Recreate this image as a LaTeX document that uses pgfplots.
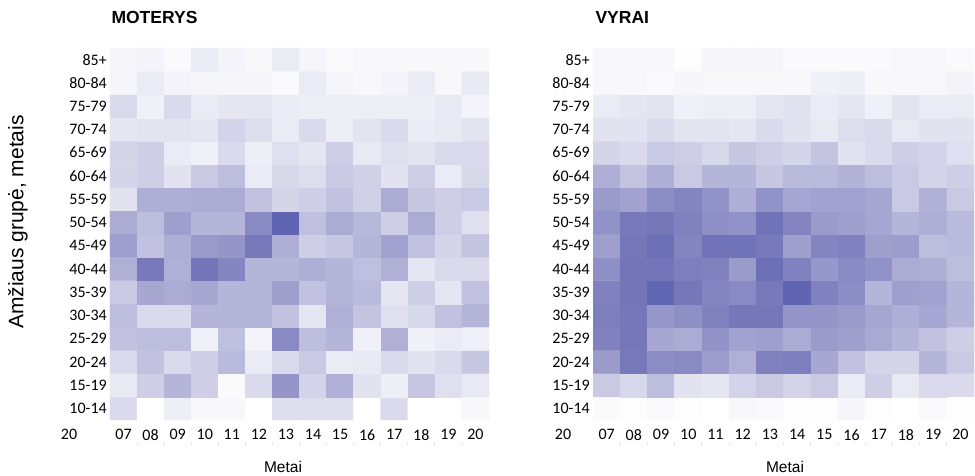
\documentclass[border=0pt]{standalone}
\usepackage{fontspec}
\setmainfont{Liberation Sans}
\newfontfamily\carlito{Carlito}
\usepackage{pgfplots}
\pgfplotsset{compat=1.18}
\pgfplotsset{
  heat/.style={
    scale only axis, anchor=south west,
    height=372pt,
    xmin=6.5, xmax=20.5, ymin=0.5, ymax=16.5,
    axis line style={draw=none}, major tick length=0pt, tick style={draw=none},
    xtick={7,...,20},
    xticklabels={07,08,09,10,11,12,13,14,15,16,17,18,19,20},
    ytick={1,...,16},
    yticklabels={10-14,15-19,20-24,25-29,30-34,35-39,40-44,45-49,50-54,55-59,60-64,65-69,70-74,75-79,80-84,85+},
    xticklabel style={font=\carlito\fontsize{16}{16}\selectfont, inner sep=0pt, anchor=north, yshift=-9pt},
    yticklabel style={font=\carlito\fontsize{16}{16}\selectfont, inner sep=0pt, anchor=east, xshift=-3pt},
    extra x ticks={7.5,8.5,9.5,10.5,11.5,12.5,13.5,14.5,15.5,16.5,17.5,18.5,19.5},
    extra x tick labels={},
    extra x tick style={major tick length=1.2pt, tick align=outside, tick pos=lower,
      tick style={draw=black!25, line width=0.8pt, yshift=-23pt}},
    colormap={purp}{rgb255(0cm)=(255,255,255); rgb255(3.3cm)=(174,174,214); rgb255(6.5cm)=(120,121,186); rgb255(9cm)=(95,101,178); rgb255(10cm)=(86,92,172)},
    point meta min=0, point meta max=1,
  }
}
\begin{document}
\begin{tikzpicture}
\path[use as bounding box] (0,0) rectangle (975pt,475pt);
% MOTERYS
\begin{axis}[heat, at={(110pt,55pt)}, width=379pt]
\addplot[matrix plot*, mesh/cols=14, point meta=explicit] coordinates {
(7,1)[0.15] (8,1)[0] (9,1)[0.07] (10,1)[0.03] (11,1)[0.03] (12,1)[0] (13,1)[0.14] (14,1)[0.14] (15,1)[0.14] (16,1)[0] (17,1)[0.15] (18,1)[0] (19,1)[0] (20,1)[0.03]
(7,2)[0.09] (8,2)[0.2] (9,2)[0.3] (10,2)[0.2] (11,2)[0.02] (12,2)[0.15] (13,2)[0.48] (14,2)[0.18] (15,2)[0.32] (16,2)[0.12] (17,2)[0.07] (18,2)[0.23] (19,2)[0.13] (20,2)[0.09]
(7,3)[0.15] (8,3)[0.25] (9,3)[0.15] (10,3)[0.2] (11,3)[0.28] (12,3)[0.08] (13,3)[0.15] (14,3)[0.22] (15,3)[0.08] (16,3)[0.09] (17,3)[0.15] (18,3)[0.12] (19,3)[0.15] (20,3)[0.23]
(7,4)[0.25] (8,4)[0.27] (9,4)[0.27] (10,4)[0.06] (11,4)[0.26] (12,4)[0.05] (13,4)[0.55] (14,4)[0.27] (15,4)[0.3] (16,4)[0.06] (17,4)[0.32] (18,4)[0.06] (19,4)[0.08] (20,4)[0.06]
(7,5)[0.27] (8,5)[0.15] (9,5)[0.15] (10,5)[0.3] (11,5)[0.3] (12,5)[0.3] (13,5)[0.25] (14,5)[0.1] (15,5)[0.32] (16,5)[0.24] (17,5)[0.13] (18,5)[0.16] (19,5)[0.25] (20,5)[0.3]
(7,6)[0.22] (8,6)[0.37] (9,6)[0.35] (10,6)[0.37] (11,6)[0.3] (12,6)[0.3] (13,6)[0.42] (14,6)[0.25] (15,6)[0.3] (16,6)[0.28] (17,6)[0.1] (18,6)[0.2] (19,6)[0.1] (20,6)[0.25]
(7,7)[0.32] (8,7)[0.65] (9,7)[0.32] (10,7)[0.7] (11,7)[0.57] (12,7)[0.3] (13,7)[0.3] (14,7)[0.33] (15,7)[0.3] (16,7)[0.26] (17,7)[0.32] (18,7)[0.1] (19,7)[0.15] (20,7)[0.15]
(7,8)[0.42] (8,8)[0.25] (9,8)[0.33] (10,8)[0.45] (11,8)[0.48] (12,8)[0.65] (13,8)[0.33] (14,8)[0.2] (15,8)[0.23] (16,8)[0.3] (17,8)[0.4] (18,8)[0.25] (19,8)[0.17] (20,8)[0.24]
(7,9)[0.35] (8,9)[0.27] (9,9)[0.42] (10,9)[0.3] (11,9)[0.3] (12,9)[0.55] (13,9)[0.9] (14,9)[0.26] (15,9)[0.35] (16,9)[0.29] (17,9)[0.2] (18,9)[0.35] (19,9)[0.2] (20,9)[0.13]
(7,10)[0.12] (8,10)[0.33] (9,10)[0.33] (10,10)[0.35] (11,10)[0.35] (12,10)[0.25] (13,10)[0.17] (14,10)[0.2] (15,10)[0.25] (16,10)[0.19] (17,10)[0.35] (18,10)[0.23] (19,10)[0.2] (20,10)[0.22]
(7,11)[0.17] (8,11)[0.2] (9,11)[0.12] (10,11)[0.22] (11,11)[0.27] (12,11)[0.08] (13,11)[0.16] (14,11)[0.14] (15,11)[0.22] (16,11)[0.19] (17,11)[0.12] (18,11)[0.2] (19,11)[0.08] (20,11)[0.16]
(7,12)[0.17] (8,12)[0.2] (9,12)[0.08] (10,12)[0.06] (11,12)[0.15] (12,12)[0.07] (13,12)[0.13] (14,12)[0.1] (15,12)[0.2] (16,12)[0.09] (17,12)[0.13] (18,12)[0.11] (19,12)[0.15] (20,12)[0.15]
(7,13)[0.1] (8,13)[0.11] (9,13)[0.11] (10,13)[0.1] (11,13)[0.18] (12,13)[0.14] (13,13)[0.08] (14,13)[0.15] (15,13)[0.07] (16,13)[0.11] (17,13)[0.15] (18,13)[0.08] (19,13)[0.09] (20,13)[0.11]
(7,14)[0.15] (8,14)[0.06] (9,14)[0.15] (10,14)[0.08] (11,14)[0.1] (12,14)[0.1] (13,14)[0.08] (14,14)[0.07] (15,14)[0.07] (16,14)[0.07] (17,14)[0.07] (18,14)[0.07] (19,14)[0.09] (20,14)[0.05]
(7,15)[0.04] (8,15)[0.08] (9,15)[0.05] (10,15)[0.04] (11,15)[0.04] (12,15)[0.04] (13,15)[0.02] (14,15)[0.08] (15,15)[0.04] (16,15)[0.03] (17,15)[0.05] (18,15)[0.08] (19,15)[0.03] (20,15)[0.09]
(7,16)[0.04] (8,16)[0.05] (9,16)[0.02] (10,16)[0.08] (11,16)[0.05] (12,16)[0.03] (13,16)[0.08] (14,16)[0.04] (15,16)[0.02] (16,16)[0.03] (17,16)[0.03] (18,16)[0.03] (19,16)[0.03] (20,16)[0.03]
};
\end{axis}
% VYRAI
\begin{axis}[heat, at={(593pt,55pt)}, width=381pt]
\addplot[matrix plot*, mesh/cols=14, point meta=explicit] coordinates {
(7,1)[0.02] (8,1)[0.01] (9,1)[0.02] (10,1)[0.01] (11,1)[0] (12,1)[0.03] (13,1)[0.02] (14,1)[0.01] (15,1)[0.01] (16,1)[0.04] (17,1)[0.01] (18,1)[0] (19,1)[0.02] (20,1)[0.01]
(7,2)[0.22] (8,2)[0.16] (9,2)[0.27] (10,2)[0.12] (11,2)[0.1] (12,2)[0.18] (13,2)[0.22] (14,2)[0.18] (15,2)[0.22] (16,2)[0.08] (17,2)[0.2] (18,2)[0.09] (19,2)[0.15] (20,2)[0.15]
(7,3)[0.45] (8,3)[0.65] (9,3)[0.53] (10,3)[0.55] (11,3)[0.43] (12,3)[0.32] (13,3)[0.6] (14,3)[0.62] (15,3)[0.37] (16,3)[0.25] (17,3)[0.17] (18,3)[0.17] (19,3)[0.3] (20,3)[0.22]
(7,4)[0.6] (8,4)[0.67] (9,4)[0.37] (10,4)[0.35] (11,4)[0.5] (12,4)[0.4] (13,4)[0.42] (14,4)[0.35] (15,4)[0.45] (16,4)[0.42] (17,4)[0.36] (18,4)[0.3] (19,4)[0.25] (20,4)[0.2]
(7,5)[0.62] (8,5)[0.67] (9,5)[0.47] (10,5)[0.52] (11,5)[0.6] (12,5)[0.68] (13,5)[0.68] (14,5)[0.48] (15,5)[0.48] (16,5)[0.45] (17,5)[0.38] (18,5)[0.33] (19,5)[0.38] (20,5)[0.3]
(7,6)[0.6] (8,6)[0.7] (9,6)[0.88] (10,6)[0.68] (11,6)[0.58] (12,6)[0.55] (13,6)[0.65] (14,6)[0.9] (15,6)[0.6] (16,6)[0.53] (17,6)[0.3] (18,6)[0.42] (19,6)[0.4] (20,6)[0.3]
(7,7)[0.52] (8,7)[0.7] (9,7)[0.7] (10,7)[0.62] (11,7)[0.6] (12,7)[0.45] (13,7)[0.78] (14,7)[0.6] (15,7)[0.47] (16,7)[0.55] (17,7)[0.5] (18,7)[0.35] (19,7)[0.33] (20,7)[0.27]
(7,8)[0.42] (8,8)[0.68] (9,8)[0.78] (10,8)[0.58] (11,8)[0.72] (12,8)[0.72] (13,8)[0.65] (14,8)[0.42] (15,8)[0.58] (16,8)[0.6] (17,8)[0.42] (18,8)[0.43] (19,8)[0.27] (20,8)[0.28]
(7,9)[0.5] (8,9)[0.65] (9,9)[0.67] (10,9)[0.6] (11,9)[0.52] (12,9)[0.5] (13,9)[0.72] (14,9)[0.58] (15,9)[0.45] (16,9)[0.42] (17,9)[0.38] (18,9)[0.3] (19,9)[0.33] (20,9)[0.28]
(7,10)[0.45] (8,10)[0.4] (9,10)[0.53] (10,10)[0.58] (11,10)[0.5] (12,10)[0.33] (13,10)[0.5] (14,10)[0.38] (15,10)[0.4] (16,10)[0.4] (17,10)[0.37] (18,10)[0.22] (19,10)[0.32] (20,10)[0.22]
(7,11)[0.33] (8,11)[0.24] (9,11)[0.33] (10,11)[0.22] (11,11)[0.3] (12,11)[0.3] (13,11)[0.23] (14,11)[0.28] (15,11)[0.28] (16,11)[0.31] (17,11)[0.27] (18,11)[0.22] (19,11)[0.17] (20,11)[0.2]
(7,12)[0.17] (8,12)[0.15] (9,12)[0.22] (10,12)[0.2] (11,12)[0.16] (12,12)[0.23] (13,12)[0.2] (14,12)[0.17] (15,12)[0.24] (16,12)[0.12] (17,12)[0.15] (18,12)[0.2] (19,12)[0.18] (20,12)[0.13]
(7,13)[0.12] (8,13)[0.12] (9,13)[0.15] (10,13)[0.11] (11,13)[0.11] (12,13)[0.1] (13,13)[0.15] (14,13)[0.12] (15,13)[0.09] (16,13)[0.14] (17,13)[0.15] (18,13)[0.09] (19,13)[0.12] (20,13)[0.12]
(7,14)[0.08] (8,14)[0.1] (9,14)[0.11] (10,14)[0.06] (11,14)[0.07] (12,14)[0.07] (13,14)[0.1] (14,14)[0.12] (15,14)[0.08] (16,14)[0.1] (17,14)[0.06] (18,14)[0.11] (19,14)[0.08] (20,14)[0.08]
(7,15)[0.03] (8,15)[0.03] (9,15)[0.02] (10,15)[0.04] (11,15)[0.03] (12,15)[0.03] (13,15)[0.03] (14,15)[0.03] (15,15)[0.06] (16,15)[0.07] (17,15)[0.03] (18,15)[0.03] (19,15)[0.03] (20,15)[0.05]
(7,16)[0.03] (8,16)[0.03] (9,16)[0.03] (10,16)[0.01] (11,16)[0.04] (12,16)[0.04] (13,16)[0.04] (14,16)[0.02] (15,16)[0.02] (16,16)[0.02] (17,16)[0.02] (18,16)[0.03] (19,16)[0.03] (20,16)[0.02]
};
\end{axis}
\node[anchor=west, font=\bfseries\fontsize{17.5}{17.5}\selectfont] at (108pt,458pt) {MOTERYS};
\node[anchor=west, font=\bfseries\fontsize{17.5}{17.5}\selectfont] at (592pt,458pt) {VYRAI};
\node[rotate=90, font=\fontsize{21}{21}\selectfont] at (18pt,253pt) {Amžiaus grupė, metais};
\node[font=\fontsize{15.5}{15.5}\selectfont] at (283pt,8pt) {Metai};
\node[font=\fontsize{15.5}{15.5}\selectfont] at (785pt,8pt) {Metai};
\node[font=\carlito\fontsize{16}{16}\selectfont, inner sep=0pt] at (69pt,41pt) {20};
\node[font=\carlito\fontsize{16}{16}\selectfont, inner sep=0pt] at (563pt,41pt) {20};
\end{tikzpicture}
\end{document}
